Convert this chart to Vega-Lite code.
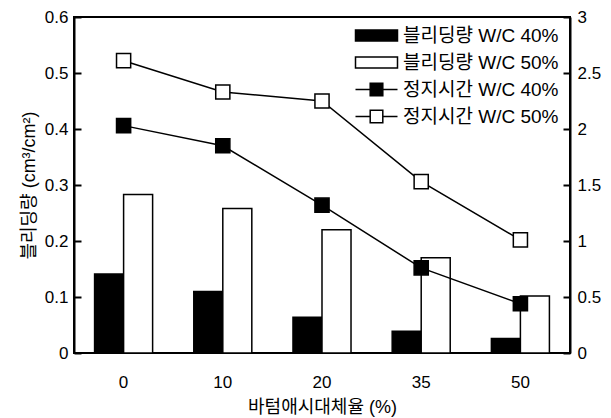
{
  "$schema": "https://vega.github.io/schema/vega-lite/v6.json",
  "width": 496,
  "height": 336,
  "padding": {"left": 20, "top": 8, "right": 3, "bottom": 3},
  "background": "white",
  "config": {
    "font": "Liberation Sans, Noto Sans CJK KR",
    "view": {"stroke": "black", "strokeWidth": 2},
    "axis": {
      "grid": false,
      "domainColor": "black",
      "domainWidth": 2,
      "tickColor": "black",
      "labelColor": "black",
      "titleColor": "black",
      "labelFontSize": 17,
      "titleFontSize": 18,
      "titleFontWeight": "normal"
    }
  },
  "datasets": {
    "bleeding": [
      {"ratio": "0", "group": "블리딩량 W/C 40%", "bleed": 0.141},
      {"ratio": "0", "group": "블리딩량 W/C 50%", "bleed": 0.283},
      {"ratio": "10", "group": "블리딩량 W/C 40%", "bleed": 0.110},
      {"ratio": "10", "group": "블리딩량 W/C 50%", "bleed": 0.258},
      {"ratio": "20", "group": "블리딩량 W/C 40%", "bleed": 0.064},
      {"ratio": "20", "group": "블리딩량 W/C 50%", "bleed": 0.220},
      {"ratio": "35", "group": "블리딩량 W/C 40%", "bleed": 0.039},
      {"ratio": "35", "group": "블리딩량 W/C 50%", "bleed": 0.170},
      {"ratio": "50", "group": "블리딩량 W/C 40%", "bleed": 0.026},
      {"ratio": "50", "group": "블리딩량 W/C 50%", "bleed": 0.102}
    ],
    "stop": [
      {"ratio": "0", "group": "정지시간 W/C 40%", "time": 2.03},
      {"ratio": "10", "group": "정지시간 W/C 40%", "time": 1.85},
      {"ratio": "20", "group": "정지시간 W/C 40%", "time": 1.32},
      {"ratio": "35", "group": "정지시간 W/C 40%", "time": 0.76},
      {"ratio": "50", "group": "정지시간 W/C 40%", "time": 0.44},
      {"ratio": "0", "group": "정지시간 W/C 50%", "time": 2.61},
      {"ratio": "10", "group": "정지시간 W/C 50%", "time": 2.33},
      {"ratio": "20", "group": "정지시간 W/C 50%", "time": 2.25},
      {"ratio": "35", "group": "정지시간 W/C 50%", "time": 1.53},
      {"ratio": "50", "group": "정지시간 W/C 50%", "time": 1.01}
    ]
  },
  "encoding": {
    "x": {
      "field": "ratio",
      "type": "ordinal",
      "sort": ["0", "10", "20", "35", "50"],
      "scale": {"type": "band", "paddingInner": 0.415, "paddingOuter": 0.2075},
      "axis": {
        "title": "바텀애시대체율 (%)",
        "labelAngle": 0,
        "ticks": false,
        "domain": false,
        "labelPadding": 21,
        "titlePadding": 8
      }
    }
  },
  "layer": [
    {
      "data": {"name": "bleeding"},
      "mark": {"type": "bar", "stroke": "black", "strokeWidth": 1.5},
      "encoding": {
        "xOffset": {"field": "group", "type": "nominal", "scale": {"paddingInner": 0, "paddingOuter": 0}},
        "y": {
          "field": "bleed",
          "type": "quantitative",
          "scale": {"domain": [0, 0.6], "nice": false, "zero": true},
          "axis": {
            "title": "블리딩량 (cm³/cm²)",
            "values": [0, 0.1, 0.2, 0.3, 0.4, 0.5, 0.6],
            "format": "~g",
            "tickSize": -7,
            "tickWidth": 2,
            "labelPadding": 13,
            "titlePadding": 6
          }
        },
        "fill": {
          "field": "group",
          "type": "nominal",
          "scale": {
            "domain": ["블리딩량 W/C 40%", "블리딩량 W/C 50%", "정지시간 W/C 40%", "정지시간 W/C 50%"],
            "range": ["black", "white", "black", "white"]
          },
          "legend": {
            "title": null,
            "orient": "none",
            "legendX": 293,
            "legendY": 9,
            "padding": 0,
            "labelFontSize": 19,
            "labelColor": "black",
            "labelOffset": 17,
            "rowPadding": 7,
            "symbolSize": 196,
            "symbolStrokeColor": "black",
            "symbolStrokeWidth": 1.5,
            "symbolOpacity": 1,
            "encode": {
              "symbols": {
                "update": {
                  "shape": {"signal": "datum.index < 2 ? 'M-3,-0.8H3V0.8H-3Z' : 'M-3,0H-0.9M0.9,0H3M-0.9,-0.9H0.9V0.9H-0.9Z'"},
                  "stroke": {"value": "black"},
                  "strokeWidth": {"value": 1.5}
                }
              }
            }
          }
        }
      }
    },
    {
      "data": {"name": "stop"},
      "encoding": {
        "y": {
          "field": "time",
          "type": "quantitative",
          "scale": {"domain": [0, 3], "nice": false},
          "axis": {
            "orient": "right",
            "title": null,
            "values": [0, 0.5, 1, 1.5, 2, 2.5, 3],
            "format": "~g",
            "tickSize": -7,
            "tickWidth": 2,
            "labelPadding": 14
          }
        }
      },
      "layer": [
        {
          "mark": {"type": "line", "color": "black", "strokeWidth": 1.5},
          "encoding": {
            "detail": {"field": "group", "type": "nominal"}
          }
        },
        {
          "mark": {"type": "point", "shape": "square", "size": 200, "stroke": "black", "strokeWidth": 1.5, "opacity": 1, "filled": true},
          "encoding": {
            "fill": {"field": "group", "type": "nominal"}
          }
        }
      ]
    }
  ],
  "resolve": {"scale": {"y": "independent"}}
}
